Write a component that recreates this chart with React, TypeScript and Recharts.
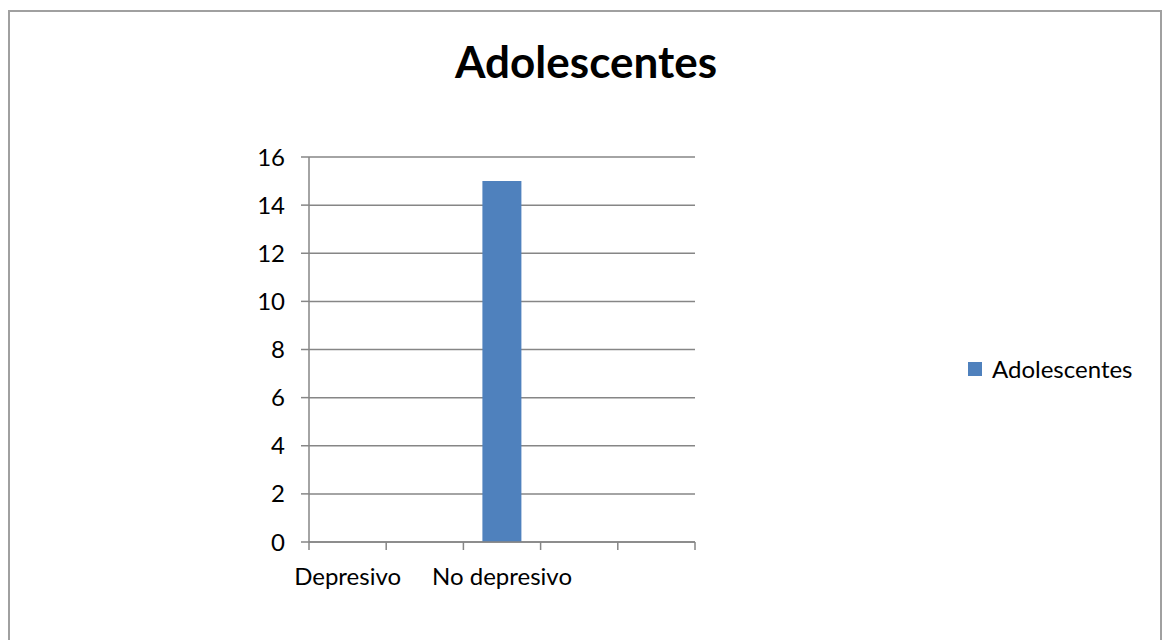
import { BarChart, Bar, XAxis, YAxis, CartesianGrid, Legend } from 'recharts'

const categories = ['Depresivo', '', 'No depresivo', '', '']
const adolescentes: (number | null)[] = [0, null, 15, null, null]
const yTicks = [0, 2, 4, 6, 8, 10, 12, 14, 16]

const data = categories.map((name, i) => ({ name, Adolescentes: adolescentes[i] }))

const FONT = 'Lato, "Open Sans", sans-serif'
const AXIS = '#868686'
const BLUE = '#4f81bd'

const W = 1163
const H = 640
const MARGIN = { top: 157, right: 468, bottom: 58, left: 249 }
const Y_AXIS_W = 60
const X_AXIS_H = 40
const plotBottom = H - MARGIN.bottom - X_AXIS_H
const band = (W - MARGIN.left - MARGIN.right - Y_AXIS_W) / categories.length

// category label plus Excel-style tick marks on the band boundaries
function CategoryTick(props: any) {
  const { x, payload, index } = props
  const left = x - band / 2
  const right = x + band / 2
  return (
    <g>
      <line x1={left} x2={left} y1={plotBottom} y2={plotBottom + 8} stroke={AXIS} strokeWidth={1.5} />
      {index === categories.length - 1 && (
        <line x1={right} x2={right} y1={plotBottom} y2={plotBottom + 8} stroke={AXIS} strokeWidth={1.5} />
      )}
      <text x={x} y={plotBottom + 43} textAnchor="middle" fontSize={24} fontFamily={FONT} fill="#000">
        {payload.value}
      </text>
    </g>
  )
}

function LegendBox() {
  return (
    <div style={{ display: 'flex', alignItems: 'center', fontFamily: FONT, fontSize: 24, color: '#000' }}>
      <span style={{ width: 14, height: 14, background: BLUE, marginRight: 10 }} />
      <span>Adolescentes</span>
    </div>
  )
}

export default function App() {
  return (
    <div style={{ position: 'absolute', left: 0, top: 0, width: W, height: H, background: '#fff', overflow: 'hidden' }}>
      <div
        style={{
          position: 'absolute',
          left: 8,
          top: 10,
          width: 1150,
          height: 660,
          border: '2px solid #a0a0a0'
        }}
      />
      <div
        style={{
          position: 'absolute',
          left: 0,
          top: 35,
          width: 1172,
          textAlign: 'center',
          fontFamily: FONT,
          fontWeight: 700,
          fontSize: 44,
          lineHeight: 1.2,
          color: '#000'
        }}
      >
        Adolescentes
      </div>
      <div style={{ position: 'absolute', left: 0, top: 0 }}>
        <BarChart width={W} height={H} data={data} margin={MARGIN}>
          <CartesianGrid vertical={false} stroke={AXIS} strokeWidth={1.5} />
          <XAxis
            dataKey="name"
            height={X_AXIS_H}
            interval={0}
            tickLine={false}
            axisLine={{ stroke: AXIS, strokeWidth: 1.5 }}
            tick={<CategoryTick />}
          />
          <YAxis
            width={Y_AXIS_W}
            domain={[0, 16]}
            ticks={yTicks}
            interval={0}
            tickSize={8}
            tickMargin={16}
            axisLine={{ stroke: AXIS, strokeWidth: 1.5 }}
            tickLine={{ stroke: AXIS, strokeWidth: 1.5 }}
            tick={{ fontSize: 24, fill: '#000', fontFamily: FONT }}
          />
          <Legend
            layout="horizontal"
            align="center"
            verticalAlign="middle"
            wrapperStyle={{ left: 968, top: 354, width: 'auto' }}
            content={() => <LegendBox />}
          />
          <Bar dataKey="Adolescentes" fill={BLUE} barSize={39} isAnimationActive={false} />
        </BarChart>
      </div>
    </div>
  )
}
